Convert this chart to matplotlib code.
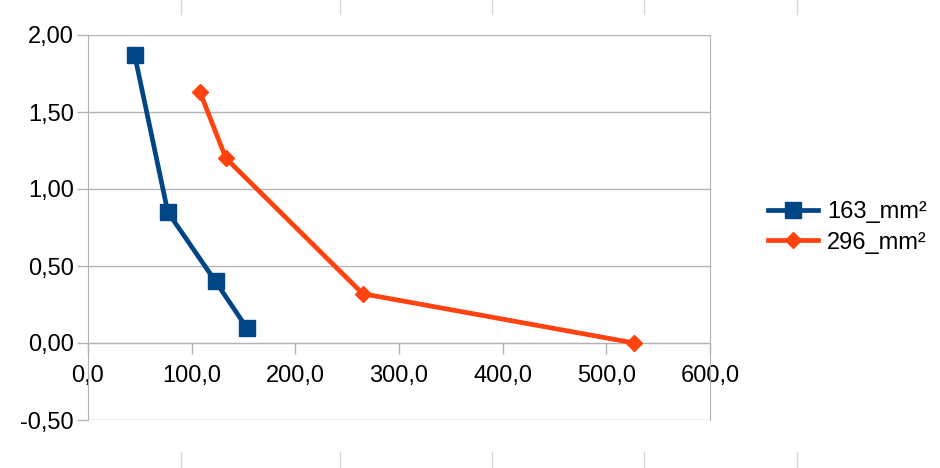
import numpy as np
from matplotlib import pyplot as plt
from matplotlib.ticker import FuncFormatter
from matplotlib.lines import Line2D

plt.rcParams['font.family'] = ['Liberation Sans', 'DejaVu Sans']

# data
x_163 = [45.0, 77.0, 123.0, 153.0]
y_163 = [1.87, 0.85, 0.40, 0.10]
x_296 = [108.0, 133.0, 265.0, 527.0]
y_296 = [1.63, 1.20, 0.32, 0.00]
labels = ['163_mm²', '296_mm²']

blue = '#004586'
orange = '#ff420e'

fig = plt.figure(figsize=(9.4, 4.68), dpi=100)
ax = fig.add_axes([88/940, 1-420/468, (710-88)/940, (420-35)/468])

ax.plot(x_163, y_163, color=blue, lw=3.4, marker='s', ms=11, label=labels[0], zorder=3)
ax.plot(x_296, y_296, color=orange, lw=3.4, marker='D', ms=8, label=labels[1], zorder=3)

ax.set_xlim(0, 600)
ax.set_ylim(-0.5, 2.0)
ax.set_yticks(np.arange(-0.5, 2.01, 0.5))
ax.set_xticks(np.arange(0, 601, 100))
ax.yaxis.set_major_formatter(FuncFormatter(lambda v, p: f'{v:.2f}'.replace('.', ',')))
ax.xaxis.set_major_formatter(FuncFormatter(lambda v, p: f'{v:.1f}'.replace('.', ',')))
ax.grid(axis='y', color='#b3b3b3', lw=1)
ax.set_axisbelow(True)

ax.spines['bottom'].set_position(('data', 0))
for s in ['left', 'bottom', 'right']:
    ax.spines[s].set_color('#b3b3b3')
ax.spines['top'].set_visible(False)
ax.tick_params(axis='both', colors='#b3b3b3', labelcolor='black', labelsize=17, length=8, width=1)
ax.tick_params(axis='x', pad=8)
ax.tick_params(axis='y', pad=2)

leg = ax.legend(loc='center left', bbox_to_anchor=(1.059, 0.5), frameon=False, fontsize=17,
                handlelength=2.1, handletextpad=0.4, labelspacing=0.35)

# spreadsheet cell borders at top and bottom edges
for xp in [181, 340, 492, 644, 797]:
    fig.add_artist(Line2D([xp/940, xp/940], [1, 1-14/468], color='#d9d9d9', lw=1))
    fig.add_artist(Line2D([xp/940, xp/940], [0, 16/468], color='#d9d9d9', lw=1))

fig.savefig('out.png', dpi=100)
